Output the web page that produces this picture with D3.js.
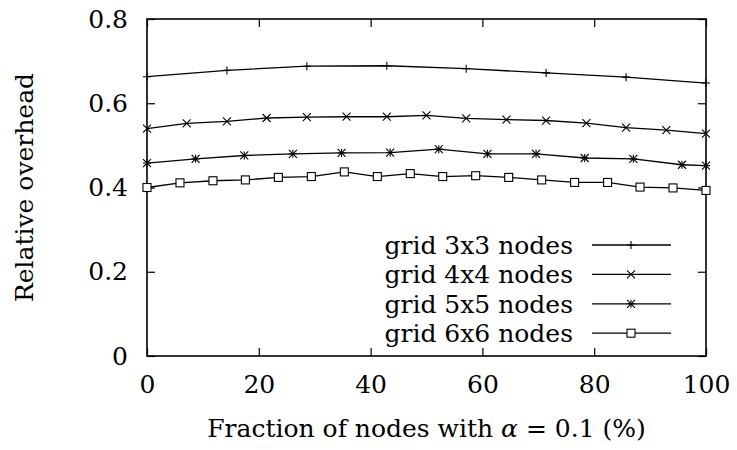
<!DOCTYPE html>
<html>
<head>
<meta charset="utf-8">
<script src="https://cdn.jsdelivr.net/npm/d3@7"></script>
<style>
	body { margin: 0; background: #fff; }
	text { font-family: "DejaVu Serif", serif; font-size: 25px; fill: #000; }
</style>
</head>
<body>
<div id="container"></div>
<script>
// values
var xTicks = [0, 20, 40, 60, 80, 100];
var yTicks = [0, 0.2, 0.4, 0.6, 0.8];

var x3 = [0, 14.3, 28.6, 42.9, 57.1, 71.4, 85.7, 100];
var y3 = [0.663, 0.678, 0.688, 0.689, 0.682, 0.672, 0.662, 0.648];

var x4 = [0, 7.1, 14.3, 21.4, 28.6, 35.7, 42.9, 50, 57.1, 64.3, 71.4, 78.6, 85.7, 92.9, 100];
var y4 = [0.540, 0.552, 0.557, 0.565, 0.567, 0.568, 0.568, 0.571, 0.564, 0.561, 0.559, 0.553, 0.542, 0.536, 0.528];

var x5 = [0, 8.7, 17.4, 26.1, 34.8, 43.5, 52.2, 60.9, 69.6, 78.3, 87.0, 95.7, 100];
var y5 = [0.458, 0.468, 0.476, 0.480, 0.482, 0.483, 0.491, 0.480, 0.480, 0.470, 0.468, 0.454, 0.452];

var x6 = [0, 5.9, 11.8, 17.6, 23.5, 29.4, 35.3, 41.2, 47.1, 52.9, 58.8, 64.7, 70.6, 76.5, 82.4, 88.2, 94.1, 100];
var y6 = [0.400, 0.411, 0.416, 0.418, 0.424, 0.426, 0.437, 0.426, 0.433, 0.426, 0.428, 0.424, 0.418, 0.412, 0.412, 0.401, 0.399, 0.393];

var seriesNames = ["grid 3x3 nodes", "grid 4x4 nodes", "grid 5x5 nodes", "grid 6x6 nodes"];
var seriesMarks = ["plus", "cross", "star", "square"];

var series = [
	{name: seriesNames[0], mark: seriesMarks[0], xs: x3, ys: y3},
	{name: seriesNames[1], mark: seriesMarks[1], xs: x4, ys: y4},
	{name: seriesNames[2], mark: seriesMarks[2], xs: x5, ys: y5},
	{name: seriesNames[3], mark: seriesMarks[3], xs: x6, ys: y6}
];

var margin = {top: 19, right: 31, bottom: 94, left: 147},
	width = 737 - margin.left - margin.right,
	height = 450 - margin.top - margin.bottom;

var x = d3.scaleLinear().domain([0, 100]).range([0, width]);
var y = d3.scaleLinear().domain([0, 0.8]).range([height, 0]);

var svg = d3.select("#container").append("svg")
	.attr("width", 737)
	.attr("height", 450);

var g = svg.append("g").attr("transform", "translate(" + margin.left + "," + margin.top + ")");

// ticks point inward on all four sides, like gnuplot
var tickLen = 8;
g.append("g")
	.attr("transform", "translate(0," + height + ")")
	.call(d3.axisBottom(x).tickValues(xTicks).tickSizeInner(-tickLen).tickSizeOuter(0).tickPadding(19))
	.call(a => a.select(".domain").remove());
g.append("g")
	.call(d3.axisTop(x).tickValues(xTicks).tickSizeInner(-tickLen).tickSizeOuter(0).tickFormat(""))
	.call(a => a.select(".domain").remove());
g.append("g")
	.call(d3.axisLeft(y).tickValues(yTicks).tickSizeInner(-tickLen).tickSizeOuter(0).tickPadding(19).tickFormat(d3.format("")))
	.call(a => a.select(".domain").remove());
g.append("g")
	.attr("transform", "translate(" + width + ",0)")
	.call(d3.axisRight(y).tickValues(yTicks).tickSizeInner(-tickLen).tickSizeOuter(0).tickFormat(""))
	.call(a => a.select(".domain").remove());

g.selectAll(".tick line").attr("stroke", "#000").attr("stroke-width", 1.2);
g.selectAll(".tick text")
	.style("font-family", "'DejaVu Serif', serif")
	.style("font-size", "25px");

g.append("rect")
	.attr("width", width)
	.attr("height", height)
	.attr("fill", "none")
	.attr("stroke", "#000")
	.attr("stroke-width", 1.6);

// axis titles
svg.append("text")
	.attr("transform", "translate(33," + (margin.top + height / 2) + ") rotate(-90)")
	.attr("text-anchor", "middle")
	.text("Relative overhead");

var xt = svg.append("text")
	.attr("x", margin.left + width / 2)
	.attr("y", 437)
	.attr("text-anchor", "middle");
xt.append("tspan").text("Fraction of nodes with ");
xt.append("tspan").style("font-style", "italic").text("α");
xt.append("tspan").text(" = 0.1 (%)");

function marker(sel, type) {
	var s = 4;
	if (type == "plus" || type == "star") {
		sel.append("path").attr("d", "M" + (-s) + ",0H" + s + "M0," + (-s) + "V" + s);
	}
	if (type == "cross" || type == "star") {
		sel.append("path").attr("d", "M" + (-s) + "," + (-s) + "L" + s + "," + s + "M" + (-s) + "," + s + "L" + s + "," + (-s));
	}
	if (type == "square") {
		sel.append("rect").attr("x", -s).attr("y", -s).attr("width", 2 * s).attr("height", 2 * s)
			.attr("fill", "#fff");
	}
	sel.selectAll("path, rect").attr("stroke", "#000").attr("stroke-width", 1.1);
}

var line = d3.line().x(d => x(d[0])).y(d => y(d[1]));

series.forEach(function(s) {
	var pts = s.xs.map((v, i) => [v, s.ys[i]]);
	g.append("path")
		.datum(pts)
		.attr("d", line)
		.attr("fill", "none")
		.attr("stroke", "#000")
		.attr("stroke-width", 1.3);
	g.selectAll(null).data(pts).enter().append("g")
		.attr("transform", d => "translate(" + x(d[0]) + "," + y(d[1]) + ")")
		.each(function() { marker(d3.select(this), s.mark); });
});

// legend
var legend = svg.append("g");
series.forEach(function(s, i) {
	var ly = 245 + i * 29.4;
	legend.append("text")
		.attr("x", 573)
		.attr("y", ly + 9)
		.attr("text-anchor", "end")
		.text(s.name);
	legend.append("line")
		.attr("x1", 592).attr("x2", 671)
		.attr("y1", ly).attr("y2", ly)
		.attr("stroke", "#000")
		.attr("stroke-width", 1.3);
	legend.append("g")
		.attr("transform", "translate(631," + ly + ")")
		.call(marker, s.mark);
});
</script>
</body>
</html>
